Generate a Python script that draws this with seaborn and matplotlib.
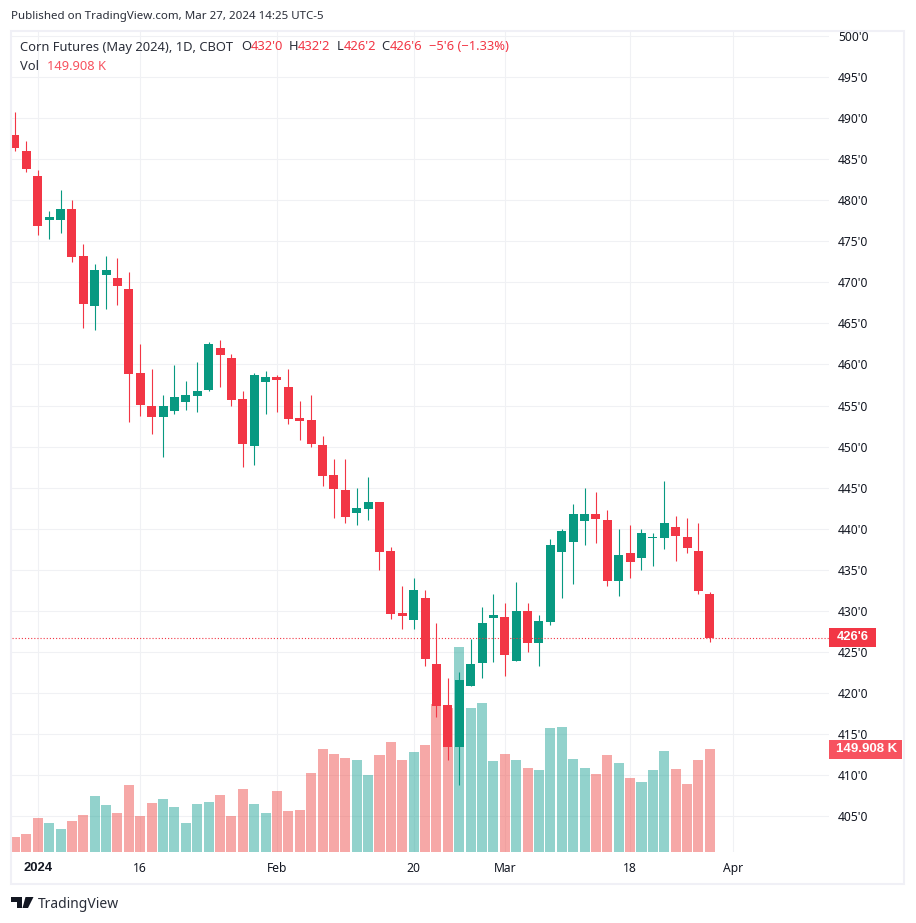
import matplotlib
matplotlib.use("Agg")
import matplotlib.pyplot as plt
from matplotlib.patches import Polygon, Rectangle
import numpy as np
import pandas as pd
import seaborn as sns

W, H = 916, 923
UP = "#089981"
DOWN = "#F23645"
UP_VOL = "#26A69A"
DOWN_VOL = "#EF5350"
GRID = "#F0F1F4"
FRAME = "#F0F0F6"
INK = "#131722"

# daily candles, Dec 28 2023 to Mar 27 2024
opens = [487.9, 486.0, 482.9, 477.6, 477.6, 478.9, 473.2, 467.1, 470.9, 470.5,
         469.2, 458.95, 454.95, 453.6, 454.35, 455.4, 456.15, 456.9, 462.0, 460.8,
         455.8, 450.05, 457.85, 458.45, 457.25, 453.5, 453.25, 450.2, 446.55, 444.7,
         441.9, 442.4, 443.25, 437.3, 429.75, 428.9, 431.55, 423.55, 418.55, 413.45,
         420.85, 423.65, 429.15, 429.25, 423.9, 430.0, 426.1, 428.65, 437.15, 438.4,
         440.95, 441.8, 441.05, 433.65, 437.05, 436.45, 438.9, 438.9, 440.2, 439.0,
         437.3, 432.0]
highs = [490.75, 487.2, 483.7, 478.7, 481.2, 480.0, 474.65, 472.2, 473.2, 473.0,
         471.25, 462.5, 459.45, 456.25, 459.95, 458.0, 460.3, 462.75, 463.0, 461.25,
         456.75, 458.95, 459.2, 458.7, 459.45, 455.55, 456.3, 451.3, 448.5, 448.5,
         444.95, 446.3, 443.25, 437.8, 433.0, 434.0, 432.55, 428.5, 421.85, 422.55,
         426.6, 430.45, 432.05, 430.95, 433.5, 430.95, 429.5, 438.75, 439.95, 443.0,
         444.95, 444.45, 442.25, 439.95, 440.45, 439.95, 439.5, 445.8, 441.55, 441.3,
         440.7, 432.25]
lows = [486.0, 483.4, 475.75, 475.25, 476.0, 472.45, 464.45, 464.2, 466.75, 467.25,
        453.0, 453.7, 451.55, 448.75, 453.95, 454.45, 454.2, 456.75, 457.25, 454.95,
        447.5, 447.75, 453.95, 454.2, 452.75, 450.8, 449.95, 445.2, 441.3, 440.7,
        440.45, 441.05, 434.95, 429.0, 427.8, 427.8, 423.3, 417.1, 411.85, 408.8,
        420.85, 421.85, 423.75, 422.05, 423.9, 425.0, 423.3, 428.3, 431.55, 433.25,
        438.0, 438.25, 433.0, 431.8, 434.0, 434.95, 435.45, 437.55, 436.05, 437.05,
        432.05, 426.2]
closes = [486.4, 483.8, 476.85, 477.95, 478.9, 473.05, 467.35, 471.5, 471.5, 469.55,
          458.85, 455.05, 453.6, 454.95, 456.05, 456.25, 456.75, 462.5, 461.15, 455.65,
          450.3, 458.7, 458.45, 458.1, 453.35, 453.1, 450.3, 446.4, 444.85, 441.45,
          442.5, 443.25, 437.15, 429.6, 429.35, 432.55, 424.15, 418.45, 413.45, 421.6,
          423.55, 428.5, 429.5, 424.6, 430.0, 426.1, 428.75, 438.0, 439.7, 441.8,
          441.8, 441.2, 433.65, 436.8, 435.95, 439.5, 439.0, 440.7, 439.1, 437.65,
          432.4, 426.75]
volumes = [21.8, 26.2, 49.5, 42.2, 33.5, 45.1, 53.8, 81.5, 68.4, 56.8,
           97.5, 52.4, 71.3, 77.1, 65.5, 42.2, 69.9, 72.8, 83.0, 52.4,
           91.7, 69.9, 56.8, 88.8, 59.7, 61.1, 115.0, 149.9, 142.6, 136.8,
           133.9, 112.1, 141.2, 160.1, 133.9, 145.5, 155.7, 215.4, 209.6, 298.3,
           209.6, 216.8, 132.4, 142.6, 133.9, 122.2, 119.3, 180.5, 181.9, 135.3,
           122.2, 113.5, 141.2, 129.5, 107.7, 101.9, 119.3, 147.0, 120.8, 99.0,
           133.9, 149.908]

date_ticks = [2, 11, 23, 35, 43, 54, 63]
date_labels = ["2024", "16", "Feb", "20", "Mar", "18", "Apr"]
price_ticks = list(range(405, 505, 5))
last_price = 426.75

sns.set_theme(style="white")
plt.rcParams["font.family"] = ["Noto Sans", "DejaVu Sans"]

df = pd.DataFrame({"open": opens, "high": highs, "low": lows, "close": closes, "volume": volumes})
df["day"] = np.arange(len(df))
df["up"] = df["close"] >= df["open"]
df["body"] = (df["close"] - df["open"]).abs()
df["bottom"] = df[["open", "close"]].min(axis=1)

fig = plt.figure(figsize=(W / 100, H / 100), dpi=100, facecolor="white")


def fx(x):
    return x / W


def fy(y):
    return 1 - y / H


def put(x, y, s, color=INK, size=9.3, **kw):
    kw.setdefault("va", "center")
    fig.text(fx(x), fy(y), s, color=color, fontsize=size, zorder=20, **kw)


pos = [fx(12), fy(852), fx(829) - fx(12), fy(31) - fy(852)]
xlim = (-0.26, 71.46)
ylim = (400.65, 500.59)
vol_top = 1195

# grid and tick labels sit underneath, volume next, candles on top
ax_grid = fig.add_axes(pos, zorder=1)
ax_vol = fig.add_axes(pos, zorder=2)
ax = fig.add_axes(pos, zorder=3)

ax_grid.set_xlim(xlim)
ax_grid.set_ylim(ylim)
ax_grid.set_xticks(date_ticks, date_labels)
ax_grid.set_yticks(price_ticks, [f"{p}'0" for p in price_ticks])
ax_grid.yaxis.tick_right()
ax_grid.grid(True, color=GRID, linewidth=0.8)
ax_grid.tick_params(axis="both", length=0, colors=INK, labelsize=8.7)
ax_grid.tick_params(axis="x", pad=7)
ax_grid.tick_params(axis="y", pad=6.5)
# the bold year label needs a face that really has a bold cut
year_label = ax_grid.get_xticklabels()[0]
year_label.set_fontfamily("Liberation Sans")
year_label.set_fontweight("bold")
year_label.set_fontsize(9.4)
sns.despine(ax=ax_grid, left=True, bottom=True)

for up, vol_color in [(True, UP_VOL), (False, DOWN_VOL)]:
    sub = df[df["up"] == up]
    sns.barplot(data=sub, x="day", y="volume", native_scale=True, ax=ax_vol, color=vol_color,
                saturation=1, alpha=0.5, width=0.88, errorbar=None, linewidth=0)
ax_vol.set_xlim(xlim)
ax_vol.set_ylim(0, vol_top)
ax_vol.axis("off")

for up, color in [(True, UP), (False, DOWN)]:
    sub = df[df["up"] == up]
    ax.vlines(sub["day"], sub["low"], sub["high"], color=color, linewidth=0.8)
    sns.barplot(data=sub, x="day", y="body", bottom=sub["bottom"].to_numpy(), native_scale=True,
                ax=ax, color=color, saturation=1, width=0.79, errorbar=None, linewidth=0)
ax.axhline(last_price, color=DOWN, linewidth=0.8, linestyle=(0, (1, 1.8)))
ax.set_xlim(xlim)
ax.set_ylim(ylim)
ax.axis("off")

# outer frame
fig.add_artist(Rectangle((fx(11), fy(884)), fx(904.5) - fx(11), fy(30.5) - fy(884), fill=False,
                         edgecolor=FRAME, linewidth=1.5, transform=fig.transFigure, zorder=10))

# header and legend
put(11, 16, "Published on TradingView.com, Mar 27, 2024 14:25 UTC-5", color="#2A2E39", size=8.3)
put(20, 47, "Corn Futures (May 2024), 1D, CBOT", color="#2A2E39")
for x, s, color in [(241.5, "O", "#2A2E39"), (250.5, "432'0", DOWN), (289, "H", "#2A2E39"),
                    (298, "432'2", DOWN), (336.5, "L", "#2A2E39"), (343.5, "426'2", DOWN),
                    (381.5, "C", "#2A2E39"), (390, "426'6", DOWN), (429, "−5'6 (−1.33%)", DOWN)]:
    put(x, 47, s, color=color)
put(20, 66, "Vol", color="#2A2E39")
put(47, 66, "149.908 K", color="#F7525F")

# price and volume tags on the right
fig.add_artist(Rectangle((fx(829), fy(647)), fx(876) - fx(829), fy(628) - fy(647), color=DOWN,
                         linewidth=0, transform=fig.transFigure, zorder=15))
put(852.5, 637.5, "426'6", color="white", size=9.3, ha="center", fontweight="bold",
    family="Liberation Sans")
fig.add_artist(Rectangle((fx(829), fy(759)), fx(902) - fx(829), fy(740) - fy(759), color="#F7525F",
                         linewidth=0, transform=fig.transFigure, zorder=15))
put(866.5, 749.5, "149.908 K", color="white", size=9.5, ha="center", fontweight="bold",
    family="Liberation Sans")

# TradingView logo
for pts in [[(11, 897), (22, 897), (22, 908), (17, 908), (17, 902), (11, 902)],
            [(25.5, 897), (33.5, 897), (28, 908), (22.5, 908)]]:
    fig.add_artist(Polygon([(fx(a), fy(b)) for a, b in pts], closed=True, color="#131722",
                           linewidth=0, transform=fig.transFigure, zorder=15))
put(38, 904, "TradingView", color="#2A2E39", size=10)

fig.savefig("out.png", dpi=100, facecolor="white")
